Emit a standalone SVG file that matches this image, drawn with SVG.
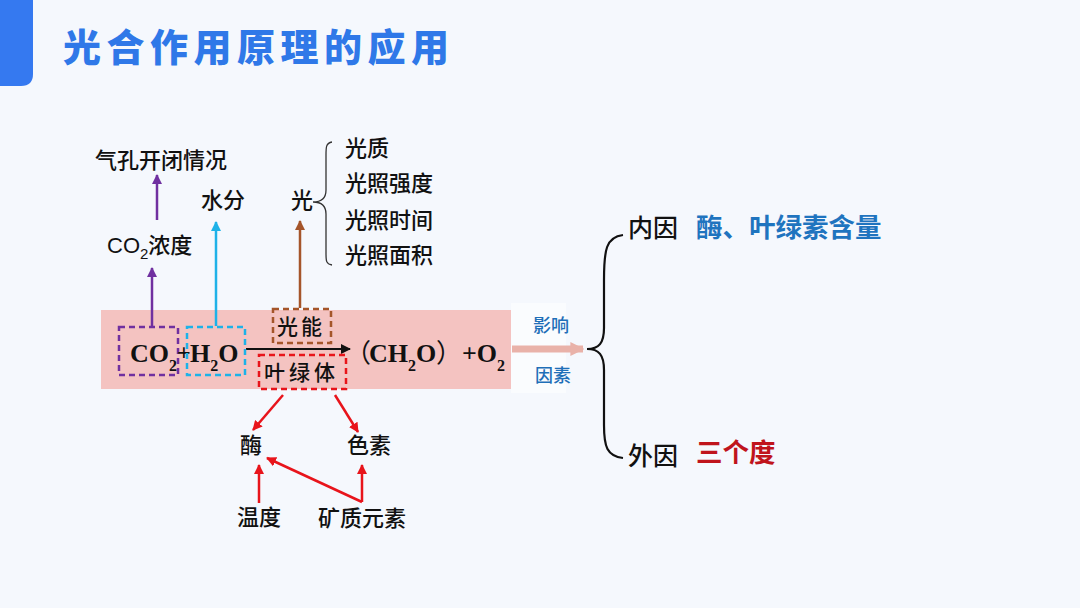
<svg xmlns="http://www.w3.org/2000/svg" width="1080" height="608" viewBox="0 0 1080 608">
<defs>
<style>
.cjk{font-family:"Noto Sans CJK SC","Liberation Sans",sans-serif;fill:#111;font-weight:500}
.lbl{font-size:22px}
.chem{font-family:"Liberation Serif","Noto Sans CJK SC",serif;font-weight:bold;fill:#111}
.sub{font-size:16px}
.dash{fill:none;stroke-width:2.5;stroke-dasharray:6 4}
.ln{fill:none;stroke-width:2.5}
</style>
<marker id="mP" viewBox="0 0 10 10" refX="9" refY="5" markerWidth="4" markerHeight="4" orient="auto"><path d="M0,0 L10,5 L0,10 z" fill="#7030A0"/></marker>
<marker id="mC" viewBox="0 0 10 10" refX="9" refY="5" markerWidth="4" markerHeight="4" orient="auto"><path d="M0,0 L10,5 L0,10 z" fill="#1EB2E8"/></marker>
<marker id="mB" viewBox="0 0 10 10" refX="9" refY="5" markerWidth="4" markerHeight="4" orient="auto"><path d="M0,0 L10,5 L0,10 z" fill="#A5552A"/></marker>
<marker id="mR" viewBox="0 0 10 10" refX="9" refY="5" markerWidth="4" markerHeight="4" orient="auto"><path d="M0,0 L10,5 L0,10 z" fill="#E8141B"/></marker>
<marker id="mK" viewBox="0 0 10 10" refX="9" refY="5" markerWidth="5" markerHeight="5" orient="auto"><path d="M0,0 L10,5 L0,10 z" fill="#111"/></marker>
<marker id="mPk" viewBox="0 0 10 10" refX="9" refY="5" markerWidth="2" markerHeight="2.2" orient="auto"><path d="M0,0 L10,5 L0,10 z" fill="#E9B2A9"/></marker>
</defs>
<rect width="1080" height="608" fill="#F5F8FD"/>
<path d="M0,0 H33 V74 Q33,86 21,86 H0 Z" fill="#3579F0"/>
<text x="63" y="61" font-family="Noto Sans CJK SC,sans-serif" font-weight="900" font-size="38" letter-spacing="5.5" fill="#2F78E8">光合作用原理的应用</text>

<g id="band">
<rect x="101" y="310" width="410" height="79" fill="#F4C3C1"/>
<rect x="511" y="303" width="55" height="90" fill="#FFFFFF" opacity="0.5"/>
</g>

<g id="connectors">
<line x1="152" y1="326" x2="152" y2="268" class="ln" stroke="#7030A0" marker-end="url(#mP)"/>
<line x1="157" y1="220" x2="157" y2="175" class="ln" stroke="#7030A0" marker-end="url(#mP)"/>
<line x1="216" y1="326" x2="216" y2="222" class="ln" stroke="#1EB2E8" marker-end="url(#mC)"/>
<line x1="300" y1="308" x2="300" y2="221" class="ln" stroke="#A5552A" marker-end="url(#mB)"/>
<line x1="246" y1="349" x2="350" y2="349" stroke="#111" stroke-width="2" marker-end="url(#mK)"/>
<line x1="512" y1="349" x2="583" y2="349" stroke="#E9B2A9" stroke-width="7" marker-end="url(#mPk)"/>
<line x1="283" y1="395" x2="253" y2="430" class="ln" stroke="#E8141B" marker-end="url(#mR)"/>
<line x1="335" y1="395" x2="358" y2="432" class="ln" stroke="#E8141B" marker-end="url(#mR)"/>
<line x1="259" y1="503" x2="259" y2="465" class="ln" stroke="#E8141B" marker-end="url(#mR)"/>
<line x1="362" y1="502" x2="267" y2="458" class="ln" stroke="#E8141B" marker-end="url(#mR)"/>
<line x1="362" y1="502" x2="362" y2="465" class="ln" stroke="#E8141B" marker-end="url(#mR)"/>
<path d="M332,142 C326,143 326,147 326,155 L326,190 C326,198 322,202 313,202 C322,202 326,206 326,214 L326,253 C326,261 326,264 332,265" fill="none" stroke="#333" stroke-width="1.3"/>
<path d="M623,235 C606,237 604,250 604,280 L604,328 C604,343 599,349 587,349 C599,349 604,355 604,370 L604,425 C604,447 607,456 623,458" fill="none" stroke="#111" stroke-width="2.2"/>
</g>

<g id="co2">
<rect x="119" y="327" width="59" height="48" class="dash" stroke="#7030A0"/>
<text class="chem" x="130" y="362" font-size="26">CO<tspan class="sub" dy="9">2</tspan></text>
</g>
<text class="chem" x="177" y="360" font-size="24" font-weight="normal">+</text>
<g id="h2o">
<rect x="187" y="327" width="58" height="48" class="dash" stroke="#1EB2E8"/>
<text class="chem" x="190" y="362" font-size="26">H<tspan class="sub" dy="9">2</tspan><tspan dy="-9">O</tspan></text>
</g>
<g id="guangneng">
<rect x="273" y="309" width="58" height="34" class="dash" stroke="#A5552A"/>
<text class="cjk" x="277" y="334" font-size="21" letter-spacing="3" font-weight="normal">光能</text>
</g>
<g id="yelvti">
<rect x="259" y="355" width="87" height="34" class="dash" stroke="#E8141B"/>
<text class="cjk" x="264" y="380" font-size="21" letter-spacing="4" font-weight="normal">叶绿体</text>
</g>
<g id="product">
<text class="chem" x="345" y="362" font-size="26"><tspan font-family="Noto Sans CJK SC" font-weight="normal">（</tspan><tspan x="369">CH</tspan><tspan class="sub" dy="9">2</tspan><tspan dy="-9">O</tspan><tspan x="436" font-family="Noto Sans CJK SC" font-weight="normal">）</tspan><tspan x="462">+O</tspan><tspan class="sub" dy="9">2</tspan></text>
</g>
<g id="yingxiang">
<text class="cjk" x="533" y="332" font-size="18" font-weight="normal" style="fill:#1F6FB8">影响</text>
<text class="cjk" x="535" y="382" font-size="18" font-weight="normal" style="fill:#1F6FB8">因素</text>
</g>

<g id="qikong"><text class="cjk lbl" x="95" y="168">气孔开闭情况</text></g>
<g id="co2nd"><text class="cjk" x="107" y="253" font-size="22"><tspan font-family="Liberation Sans">CO</tspan><tspan font-family="Liberation Sans" font-size="15" dy="6">2</tspan><tspan dy="-6">浓度</tspan></text></g>
<g id="shuifen"><text class="cjk lbl" x="201" y="208">水分</text></g>
<g id="guang"><text class="cjk lbl" x="291" y="208">光</text></g>
<g id="guangzhi"><text class="cjk lbl" x="345" y="156">光质</text></g>
<g id="qiangdu"><text class="cjk lbl" x="345" y="191">光照强度</text></g>
<g id="shijian"><text class="cjk lbl" x="345" y="228">光照时间</text></g>
<g id="mianji"><text class="cjk lbl" x="345" y="263">光照面积</text></g>

<g id="mei"><text class="cjk lbl" x="240" y="453">酶</text></g>
<g id="sesu"><text class="cjk lbl" x="347" y="453">色素</text></g>
<g id="wendu"><text class="cjk lbl" x="237" y="525">温度</text></g>
<g id="kuangzhi"><text class="cjk lbl" x="318" y="526">矿质元素</text></g>

<g id="neiyin">
<text class="cjk" x="628" y="237" font-size="25">内因</text>
<text x="696" y="237" font-family="Noto Sans CJK SC,sans-serif" font-weight="bold" font-size="26.5" fill="#1F74BF">酶、叶绿素含量</text>
</g>
<g id="waiyin">
<text class="cjk" x="628" y="465" font-size="25">外因</text>
<text x="696" y="462" font-family="Noto Sans CJK SC,sans-serif" font-weight="bold" font-size="26.5" fill="#C0141C">三个度</text>
</g>
</svg>
